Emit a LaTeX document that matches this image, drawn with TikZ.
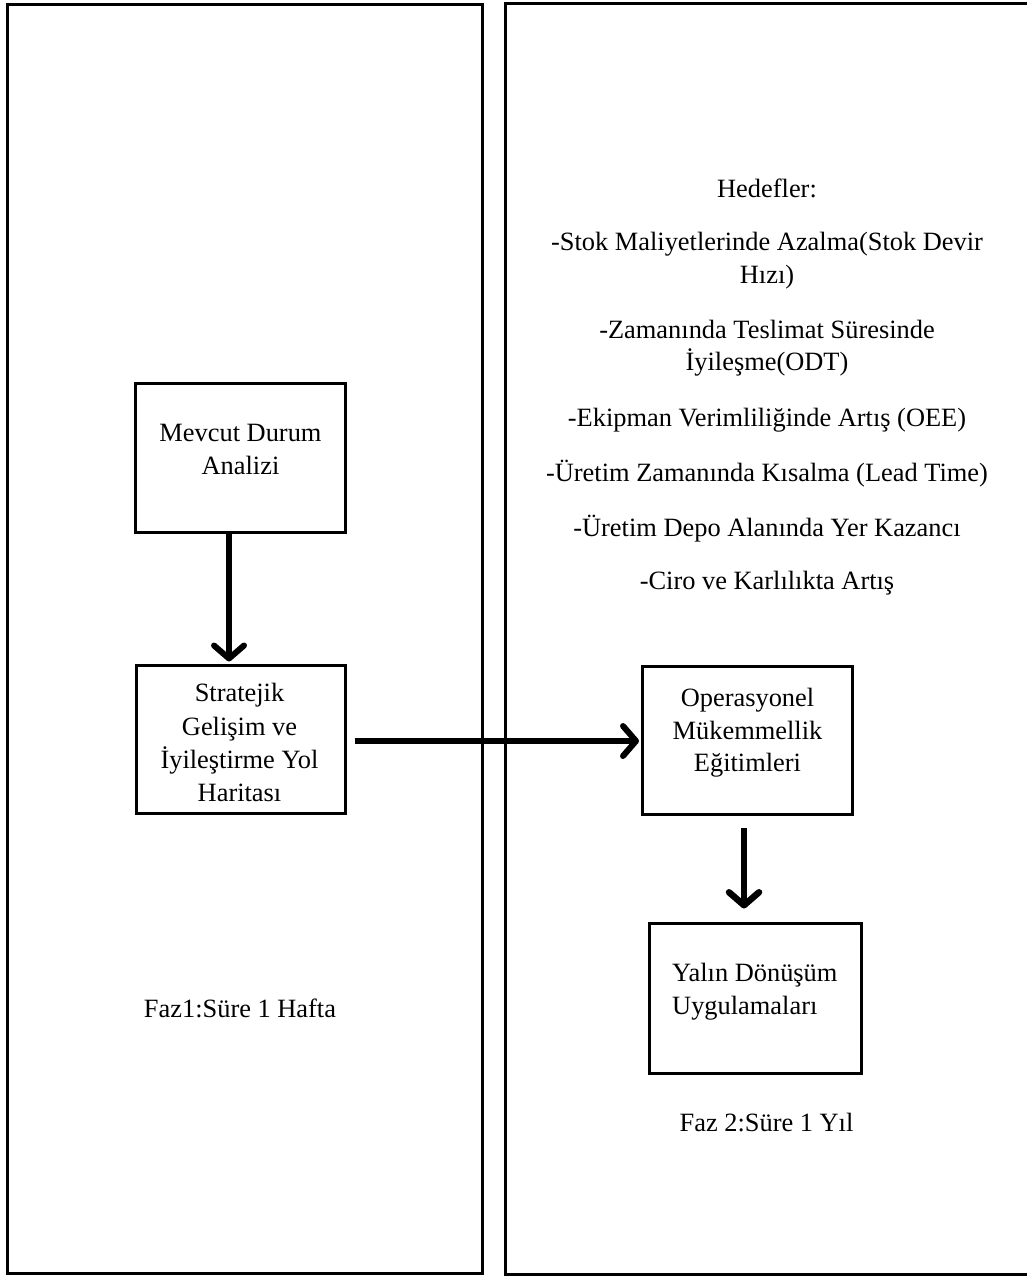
\documentclass[tikz,border=0pt]{standalone}
\usepackage{fontspec}
\setmainfont{Liberation Serif}
\usetikzlibrary{arrows.meta,calc}
\begin{document}
\begin{tikzpicture}[x=1pt,y=-1pt,
  frame/.style={draw, line width=3pt},
  box/.style={draw, line width=3pt, rectangle, inner sep=0pt},
  txt/.style={anchor=base, inner sep=0pt, font=\fontsize{26.4}{33}\selectfont},
  ltxt/.style={txt, anchor=base west},
  flow/.style={line width=6pt, -{Straight Barb[length=13pt,width=30pt,round]}}]
\useasboundingbox (0,0) rectangle (1027,1276);
\clip (0,0) rectangle (1027,1276);

% phase panels
\draw[frame] (7.7,4.3) rectangle (482.7,1273.5);
\draw[frame] (505,3.7) rectangle (1045,1274);

% process boxes
\node[box, minimum width=210pt, minimum height=149pt] (b1) at (240,457.5) {};
\node[box, minimum width=209pt, minimum height=148pt] (b2) at (240.5,739) {};
\node[box, minimum width=210pt, minimum height=148pt] (b3) at (747.5,740.5) {};
\node[box, minimum width=212pt, minimum height=150pt] (b4) at (755,998) {};

% box labels
\node[txt] (b1l1) at (240.5,441) {Mevcut Durum};
\node[txt] (b1l2) at (240.5,474) {Analizi};

\node[txt] (b2l1) at (239.5,701.5) {Stratejik};
\node[txt] (b2l2) at (239.5,735) {Gelişim ve};
\node[txt] (b2l3) at (239.5,768.5) {İyileştirme Yol};
\node[txt] (b2l4) at (239.5,801.5) {Haritası};

\node[txt] (b3l1) at (747.5,706) {Operasyonel};
\node[txt] (b3l2) at (747.5,739.5) {Mükemmellik};
\node[txt] (b3l3) at (747.5,771.5) {Eğitimleri};

\node[ltxt] (b4l1) at (672,981) {Yalın Dönüşüm};
\node[ltxt] (b4l2) at (672,1014) {Uygulamaları};

% phase durations
\node[txt] (faz1) at (240,1017) {Faz1:Süre 1 Hafta};
\node[txt] (faz2) at (766.5,1131) {Faz 2:Süre 1 Yıl};

% goals
\node[txt] (g0) at (767,197) {Hedefler:};
\node[txt] (g1a) at (767,250) {-Stok Maliyetlerinde Azalma(Stok Devir};
\node[txt] (g1b) at (767,283) {Hızı)};
\node[txt] (g2a) at (767,338.5) {-Zamanında Teslimat Süresinde};
\node[txt] (g2b) at (767,370.5) {İyileşme(ODT)};
\node[txt] (g3) at (767,426) {-Ekipman Verimliliğinde Artış (OEE)};
\node[txt] (g4) at (767,481) {-Üretim Zamanında Kısalma (Lead Time)};
\node[txt] (g5) at (767,536) {-Üretim Depo Alanında Yer Kazancı};
\node[txt] (g6) at (767,589) {-Ciro ve Karlılıkta Artış};

% connectors
\draw[flow] ($(b1.south)+(-11,0)$) -- ($(b2.north)+(-11.5,-2)$);
\draw[flow] ($(b2.east)+(8,2)$) -- ($(b3.west)+(-2,0.5)$);
\draw[flow, line width=6.5pt] ($(b3.south)+(-3.5,12)$) -- ($(b4.north)+(-11,-13)$);
\end{tikzpicture}
\end{document}
